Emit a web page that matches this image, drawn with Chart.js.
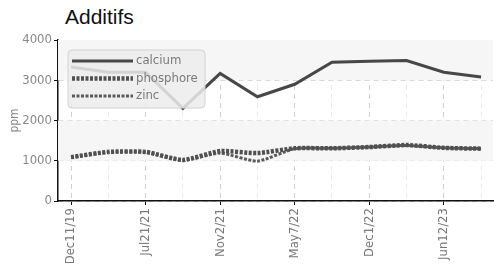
<!DOCTYPE html>
<html>
<head>
<meta charset="utf-8">
<script src="https://cdn.jsdelivr.net/npm/chart.js@4/dist/chart.umd.min.js"></script>
<style>
  html, body { margin: 0; padding: 0; background: #fff; }
  #wrap { position: relative; width: 501px; height: 264px; }
  #title { position: absolute; left: 65px; top: 5px; font: 21px "Liberation Sans", Arial, sans-serif; color: #111; }
  canvas { position: absolute; left: 0; top: 0; }
</style>
</head>
<body>
<div id="wrap">
  <div id="title">Additifs</div>
  <canvas id="c" width="501" height="264"></canvas>
</div>
<script>
var dates = ["Dec11/19", "", "Jul21/21", "", "Nov2/21", "", "May7/22", "", "Dec1/22", "", "Jun12/23", ""];
var calcium = [3330, 3200, 3200, 2300, 3170, 2590, 2900, 3450, 3470, 3490, 3200, 3080];
var phosphore = [1090, 1220, 1220, 1020, 1240, 1190, 1310, 1310, 1340, 1390, 1320, 1300];
var zinc = [1080, 1210, 1210, 1010, 1190, 990, 1300, 1310, 1340, 1380, 1320, 1300];
var yTicks = [0, 1000, 2000, 3000, 4000];

var font = "'Liberation Sans Narrow', 'DejaVu Sans Condensed', sans-serif";

function pts(arr) {
    return arr.map(function (v, i) { return { x: i, y: v }; });
}

// light bands behind the plot
var bands = {
    id: "bands",
    beforeDatasetsDraw: function (chart) {
        var ctx = chart.ctx, y = chart.scales.y, a = chart.chartArea;
        ctx.save();
        ctx.fillStyle = "#f6f6f6";
        for (var i = 1; i < yTicks.length - 1; i += 2) {
            var top = y.getPixelForValue(yTicks[i + 1]);
            var bot = y.getPixelForValue(yTicks[i]);
            ctx.fillRect(a.left, top, a.right - a.left, bot - top);
        }
        ctx.restore();
    }
};

// legend box drawn over the lines
var boxLegend = {
    id: "boxLegend",
    afterDraw: function (chart) {
        var ctx = chart.ctx;
        var x = 68, yTop = 50, w = 137, h = 58;
        ctx.save();
        ctx.beginPath();
        ctx.roundRect(x, yTop, w, h, 4);
        ctx.fillStyle = "rgba(236,236,236,0.85)";
        ctx.fill();
        ctx.strokeStyle = "#d2d2d2";
        ctx.lineWidth = 1;
        ctx.stroke();
        chart.data.datasets.forEach(function (ds, i) {
            var ly = 61 + i * 17.5;
            ctx.beginPath();
            ctx.setLineDash(ds.borderDash || []);
            ctx.lineWidth = ds.borderWidth;
            ctx.strokeStyle = ds.borderColor;
            ctx.moveTo(72, ly);
            ctx.lineTo(133, ly);
            ctx.stroke();
            ctx.setLineDash([]);
            ctx.fillStyle = "#7a7a7a";
            ctx.font = "13px " + font;
            ctx.textBaseline = "middle";
            ctx.fillText(ds.label, 136, ly);
        });
        ctx.restore();
    }
};

new Chart(document.getElementById("c"), {
    type: "line",
    data: {
        datasets: [
            { label: "calcium", data: pts(calcium), borderColor: "#474747", borderWidth: 3, tension: 0 },
            { label: "phosphore", data: pts(phosphore), borderColor: "#505050", borderWidth: 4.5, borderDash: [3, 1.5], tension: 0.2 },
            { label: "zinc", data: pts(zinc), borderColor: "#5a5a5a", borderWidth: 3, borderDash: [3, 1.5], tension: 0.2 }
        ]
    },
    options: {
        responsive: false,
        animation: false,
        layout: { padding: { top: 40, right: 8, left: 8, bottom: 0 } },
        elements: { point: { radius: 0 } },
        plugins: { legend: { display: false }, title: { display: false }, tooltip: { enabled: false } },
        scales: {
            x: {
                type: "linear",
                min: -0.35,
                max: 11.32,
                afterBuildTicks: function (s) {
                    s.ticks = dates.map(function (d, i) { return { value: i }; });
                },
                afterFit: function (s) { s.height = 63; },
                border: { color: "#111", width: 1.5, dash: [5, 4] },
                grid: {
                    color: function (c) { return c.tick && c.tick.value % 2 === 0 ? "#cfcfcf" : "#ebebeb"; },
                    tickColor: function (c) { return c.tick && c.tick.value % 2 === 0 ? "#111" : "rgba(0,0,0,0)"; },
                    tickLength: 4
                },
                ticks: {
                    autoSkip: false,
                    maxRotation: 90,
                    minRotation: 90,
                    padding: 3,
                    color: "#777",
                    font: { family: font, size: 13 },
                    callback: function (v) { return dates[v]; }
                }
            },
            y: {
                min: 0,
                max: 4000,
                afterBuildTicks: function (s) {
                    s.ticks = yTicks.map(function (v) { return { value: v }; });
                },
                afterFit: function (s) { s.width = 50; },
                border: { color: "#111", width: 1.5, dash: [5, 4] },
                grid: { color: "#cfcfcf", tickColor: "#111", tickLength: 4 },
                title: { display: true, text: "ppm", color: "#888", font: { family: font, size: 12 }, padding: 0 },
                ticks: {
                    color: "#888",
                    padding: 2,
                    font: { family: font, size: 13 },
                    callback: function (v) { return String(v); }
                }
            }
        }
    },
    plugins: [bands, boxLegend]
});
</script>
</body>
</html>
